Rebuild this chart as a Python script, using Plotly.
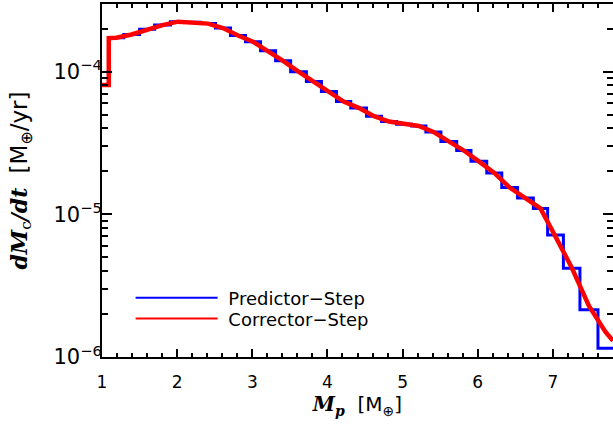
import plotly.graph_objects as go

# Bin edges of the predictor step histogram (M_p in Earth masses)
bin_edges = [1.00, 1.09, 1.29, 1.50, 1.70, 1.91, 2.11, 2.31, 2.51, 2.71, 2.91,
             3.11, 3.31, 3.51, 3.72, 3.92, 4.12, 4.31, 4.52, 4.72, 4.92,
             5.12, 5.31, 5.51, 5.72, 5.91, 6.12, 6.32, 6.53, 6.74, 6.93,
             7.14, 7.36, 7.60, 7.80]

# Predictor-step accretion rate per bin [M_earth / yr]
predictor_rate = [8.07e-5, 1.73e-4, 1.82e-4, 1.98e-4, 2.12e-4, 2.24e-4, 2.22e-4,
                  2.17e-4, 2.02e-4, 1.79e-4, 1.62e-4, 1.40e-4, 1.19e-4, 1.00e-4,
                  8.54e-5, 7.26e-5, 6.17e-5, 5.57e-5, 4.87e-5, 4.47e-5, 4.27e-5,
                  4.16e-5, 3.78e-5, 3.24e-5, 2.80e-5, 2.35e-5, 1.95e-5, 1.54e-5,
                  1.30e-5, 1.10e-5, 7.17e-6, 4.19e-6, 2.14e-6, 1.15e-6]

# Corrector-step curve
corrector_mass = [1.00, 1.09, 1.09, 1.19, 1.395, 1.60, 1.805, 2.01, 2.21, 2.41,
                  2.61, 2.81, 3.01, 3.21, 3.41, 3.615, 3.82, 4.02, 4.215, 4.415,
                  4.62, 4.82, 5.02, 5.215, 5.41, 5.615, 5.815, 6.015, 6.22, 6.425,
                  6.635, 6.835, 7.035, 7.25, 7.48, 7.70, 7.80]
corrector_rate = [8.07e-5, 8.07e-5, 1.72e-4, 1.73e-4, 1.82e-4, 1.98e-4, 2.12e-4,
                  2.24e-4, 2.22e-4, 2.17e-4, 2.02e-4, 1.79e-4, 1.62e-4, 1.40e-4,
                  1.19e-4, 1.00e-4, 8.54e-5, 7.26e-5, 6.17e-5, 5.57e-5, 4.87e-5,
                  4.47e-5, 4.27e-5, 4.16e-5, 3.78e-5, 3.24e-5, 2.80e-5, 2.35e-5,
                  1.95e-5, 1.54e-5, 1.30e-5, 1.10e-5, 6.98e-6, 4.24e-6, 2.28e-6,
                  1.50e-6, 1.30e-6]

x_tick_vals = [1, 2, 3, 4, 5, 6, 7]
y_tick_vals = [1e-6, 1e-5, 1e-4]
y_tick_text = ["10<sup>\u22126</sup>", "10<sup>\u22125</sup>", "10<sup>\u22124</sup>"]
y_minor_vals = [k * 10.0 ** p for p in (-6, -5, -4) for k in range(2, 10)]

SANS = "DejaVu Sans"
SERIF = "DejaVu Serif"

fig = go.Figure()

# Blue step histogram
fig.add_trace(go.Scatter(
    x=bin_edges, y=predictor_rate + [predictor_rate[-1]],
    mode="lines", line=dict(color="#0000FF", width=3, shape="hv"),
    showlegend=False, hoverinfo="skip"))

# Red corrector curve
fig.add_trace(go.Scatter(
    x=corrector_mass, y=corrector_rate,
    mode="lines", line=dict(color="#FF0000", width=4.5),
    showlegend=False, hoverinfo="skip"))

# Legend entries (one legend each so the row spacing can match)
fig.add_trace(go.Scatter(x=[None], y=[None], mode="lines", legend="legend",
                         line=dict(color="#0000FF", width=2),
                         name="\u00a0Predictor\u2212Step"))
fig.add_trace(go.Scatter(x=[None], y=[None], mode="lines", legend="legend2",
                         line=dict(color="#FF0000", width=2),
                         name="\u00a0Corrector\u2212Step"))

legend_common = dict(xanchor="left", yanchor="middle", bgcolor="rgba(0,0,0,0)",
                     itemwidth=82, font=dict(family=SANS, size=18),
                     borderwidth=0)

fig.update_layout(
    width=613, height=427,
    margin=dict(l=102, r=0, t=4, b=70),
    paper_bgcolor="white", plot_bgcolor="white",
    font=dict(family=SANS, size=16, color="black"),
    legend=dict(x=0.056, y=0.167, **legend_common),
    legend2=dict(x=0.056, y=0.108, **legend_common),
    xaxis=dict(
        range=[1, 7.8], showgrid=False, zeroline=False, automargin=False,
        showline=True, linecolor="black", linewidth=2, mirror="allticks",
        ticks="inside", ticklen=8, tickwidth=2, tickcolor="black",
        tickvals=x_tick_vals, ticklabelstandoff=9,
        tickfont=dict(family=SANS, size=17),
        minor=dict(dtick=0.2, ticks="inside", ticklen=4, tickwidth=2, tickcolor="black"),
        title=dict(text="<b><i>M<sub>p</sub></i></b>  "
                        "<span style=\"font-family:DejaVu Sans\">[M<sub>\u2295</sub>]</span>",
                   font=dict(family=SERIF, size=20), standoff=5),
    ),
    yaxis=dict(
        type="log", range=[-6, -3.526], showgrid=False, zeroline=False, automargin=False,
        showline=True, linecolor="black", linewidth=2, mirror="allticks",
        ticks="inside", ticklen=10, tickwidth=2, tickcolor="black",
        tickvals=y_tick_vals, ticktext=y_tick_text, ticklabelstandoff=-6,
        tickfont=dict(family=SANS, size=21),
        minor=dict(tickvals=y_minor_vals, ticks="inside", ticklen=6, tickwidth=2, tickcolor="black"),
        title=dict(text="<b><i>dM</i></b><sub>c</sub><b><i>/dt</i></b>  "
                        "<span style=\"font-family:DejaVu Sans;font-size:23px\">[M<sub>\u2295</sub>/yr]</span>",
                   font=dict(family=SERIF, size=22), standoff=20),
    ),
)

fig.write_html(
    "out.html",
    config={"displayModeBar": False},
    post_script="document.body.style.margin='0';document.body.style.overflow='hidden';",
)
